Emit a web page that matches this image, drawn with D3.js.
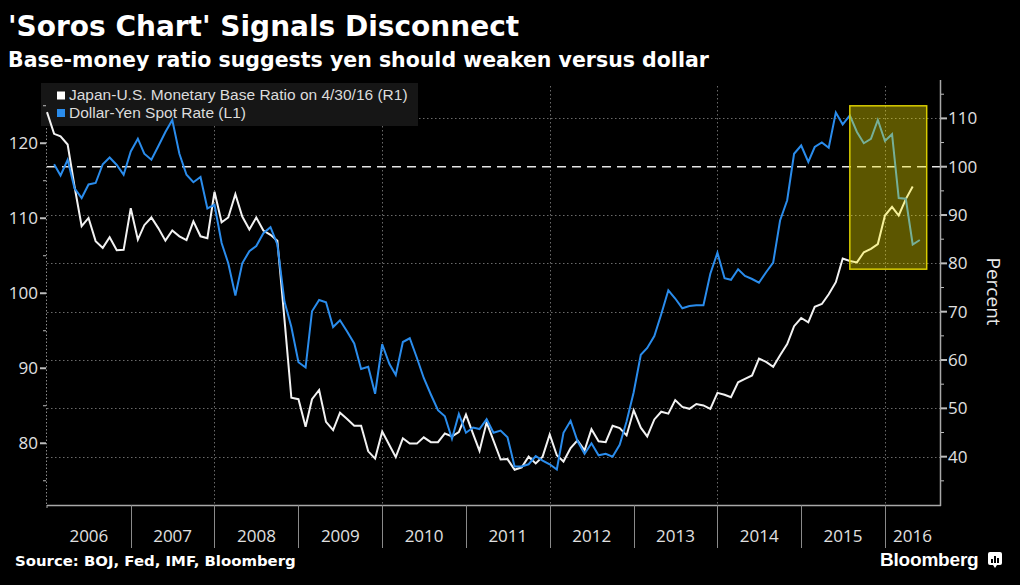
<!DOCTYPE html>
<html>
<head>
<meta charset="utf-8">
<script src="https://cdn.jsdelivr.net/npm/d3@7"></script>
<style>
  html, body { margin: 0; padding: 0; background: #000; }
  svg { display: block; }
</style>
</head>
<body>
<svg id="chart" width="1020" height="585"></svg>
<script>
// ---------------- DATA ----------------
const title = "'Soros Chart' Signals Disconnect";
const subtitle = "Base-money ratio suggests yen should weaken versus dollar";
const source = "Source: BOJ, Fed, IMF, Bloomberg";
const legendLabels = ["Japan-U.S. Monetary Base Ratio on 4/30/16 (R1)", "Dollar-Yen Spot Rate (L1)"];
const yearLabels = ["2006","2007","2008","2009","2010","2011","2012","2013","2014","2015","2016"];
const leftTicks = [80, 90, 100, 110, 120];
const rightTicks = [40, 50, 60, 70, 80, 90, 100, 110];

// Japan-U.S. monetary base ratio (percent, right axis), monthly from Jan 2006
const ratioStart = [2006, 0];
const ratioValues = [
  111.3,106.8,106.3,104.6,95.9,87.7,89.4,84.6,83.2,85.4,82.7,82.8,
  91.4,84.9,87.9,89.5,87.3,84.7,86.8,85.6,84.8,88.7,85.6,85.2,
  94.8,88.5,89.5,94.3,89.7,87.0,89.5,86.8,85.9,84.7,68.4,52.2,
  51.9,46.2,51.9,53.8,47.2,45.5,49.1,47.8,46.4,46.4,41.1,39.6,
  45.2,42.4,39.9,43.8,42.7,42.7,44.0,43.0,43.0,44.8,44.2,45.1,
  48.7,44.7,41.2,47.1,43.3,39.4,39.5,37.3,37.8,40.0,38.6,40.0,
  44.6,40.3,39.0,41.8,43.4,41.3,45.7,43.2,43.0,46.4,45.9,44.4,
  49.6,46.0,44.2,47.7,49.3,48.9,51.7,50.3,49.9,50.9,50.6,49.9,
  53.2,52.8,52.3,55.4,56.1,56.8,60.3,59.6,58.6,61.0,63.3,67.0,
  68.7,67.8,71.0,71.6,73.6,76.1,81.0,80.5,80.2,82.3,83.0,84.0,
  89.9,91.7,89.9,93.3,95.9
];

// Dollar-yen spot rate (left axis), monthly from Feb 2006
const yenStart = [2006, 1];
const yenValues = [
  117.2,115.7,117.8,114.0,112.7,114.5,114.7,117.2,118.1,117.1,115.8,
  118.9,120.6,118.6,117.8,119.6,121.5,123.1,118.6,115.8,114.8,115.5,111.3,
  111.8,106.7,104.0,99.7,104.0,105.6,106.3,108.0,108.8,106.5,98.9,95.5,
  90.8,90.1,97.6,99.1,98.8,95.5,96.4,94.9,93.3,89.9,90.2,86.6,
  93.2,90.6,89.1,93.5,94.0,91.4,88.7,86.5,84.4,83.6,80.6,83.9,
  81.4,82.1,81.9,83.2,81.4,81.7,80.8,76.9,76.9,77.2,78.3,77.7,
  77.2,76.5,81.4,83.0,80.3,78.6,80.0,78.4,78.6,78.2,79.8,82.9,
  86.8,91.8,92.7,94.3,97.2,100.4,99.3,98.0,98.3,98.4,98.4,102.6,
  105.4,102.0,101.8,103.2,102.3,101.9,101.4,102.8,104.1,109.7,112.4,118.6,
  119.7,117.5,119.5,120.1,119.4,124.1,122.5,123.7,121.5,120.0,120.6,123.1,
  120.3,121.2,112.7,112.6,106.5,107.1
];

// highlight box (date range, right-axis value range)
const highlightDates = [[2015, 7, 1], [2016, 6, 1]];
const highlightRight = [78.8, 112.6];

// ---------------- LAYOUT ----------------
const W = 1020, H = 585;
const plot = { left: 47, right: 940, top: 86, bottom: 505 };
const svg = d3.select("#chart");
svg.append("rect").attr("width", W).attr("height", H).attr("fill", "#000");

const x = d3.scaleTime()
  .domain([new Date(2006, 0, 1), new Date(2016, 7, 28)])
  .range([plot.left, plot.right]);
const yL = d3.scaleLinear().domain([71.77, 127.63]).range([plot.bottom, plot.top]);
const yR = d3.scaleLinear().domain([30.0, 116.7]).range([plot.bottom, plot.top]);

const ratio = ratioValues.map((v, i) => ({ d: new Date(ratioStart[0], ratioStart[1] + i, 1), v }));
const yen = yenValues.map((v, i) => ({ d: new Date(yenStart[0], yenStart[1] + i, 1), v }));

const axisFont = "'Open Sans', 'Noto Sans', sans-serif";
const legendFont = "'Liberation Sans', Arial, sans-serif";
const boldFont = "'DejaVu Sans', Verdana, sans-serif";

// ---------------- TITLES ----------------
svg.append("text").attr("x", 8).attr("y", 36)
  .attr("font-family", boldFont).attr("font-weight", "bold").attr("font-size", 28)
  .attr("fill", "#fff").text(title);
svg.append("text").attr("x", 8).attr("y", 67)
  .attr("font-family", boldFont).attr("font-weight", "bold").attr("font-size", 20.5)
  .attr("fill", "#fff").text(subtitle);

// ---------------- GRID ----------------
const grid = svg.append("g");
rightTicks.filter(t => t !== 100).forEach(t => {
  grid.append("line")
    .attr("x1", plot.left).attr("x2", plot.right)
    .attr("y1", Math.round(yR(t)) + 0.5).attr("y2", Math.round(yR(t)) + 0.5)
    .attr("stroke", "#6a6a6a").attr("stroke-width", 1).attr("stroke-dasharray", "1.5,2.5");
});
[2008, 2010, 2012, 2014, 2016].forEach(yr => {
  const xx = Math.round(x(new Date(yr, 0, 1))) + 0.5;
  grid.append("line")
    .attr("x1", xx).attr("x2", xx).attr("y1", plot.top).attr("y2", plot.bottom)
    .attr("stroke", "#6a6a6a").attr("stroke-width", 1).attr("stroke-dasharray", "1.5,2.5");
});
// left axis line (dotted)
grid.append("line")
  .attr("x1", plot.left - 0.5).attr("x2", plot.left - 0.5).attr("y1", plot.top).attr("y2", plot.bottom)
  .attr("stroke", "#8a8a8a").attr("stroke-width", 1).attr("stroke-dasharray", "1.5,2");

// 100 dashed reference
svg.append("line")
  .attr("x1", plot.left).attr("x2", plot.right)
  .attr("y1", yR(100)).attr("y2", yR(100))
  .attr("stroke", "#e6e6e6").attr("stroke-width", 1.5).attr("stroke-dasharray", "9,6");

// ---------------- LEGEND BG ----------------
const lg = svg.append("g");
lg.append("rect").attr("x", 41).attr("y", 83).attr("width", 377).attr("height", 43).attr("fill", "#161616");

// ---------------- LINES ----------------
const lineR = d3.line().x(d => x(d.d)).y(d => yR(d.v));
const lineL = d3.line().x(d => x(d.d)).y(d => yL(d.v));
svg.append("path").datum(ratio).attr("d", lineR)
  .attr("fill", "none").attr("stroke", "#f2f2f2").attr("stroke-width", 2).attr("stroke-linejoin", "miter");
svg.append("path").datum(yen).attr("d", lineL)
  .attr("fill", "none").attr("stroke", "#2a8cec").attr("stroke-width", 2).attr("stroke-linejoin", "miter");

// ---------------- HIGHLIGHT BOX ----------------
const hx0 = x(new Date(...highlightDates[0])), hx1 = x(new Date(...highlightDates[1]));
const hy0 = yR(highlightRight[1]), hy1 = yR(highlightRight[0]);
svg.append("rect").attr("x", hx0).attr("y", hy0).attr("width", hx1 - hx0).attr("height", hy1 - hy0)
  .attr("fill", "#ffee00").attr("fill-opacity", 0.36)
  .attr("stroke", "#d8cc00").attr("stroke-width", 1.5);

// ---------------- LEGEND ITEMS ----------------
lg.append("rect").attr("x", 57).attr("y", 91.5).attr("width", 8).attr("height", 8).attr("fill", "#fff");
lg.append("rect").attr("x", 57).attr("y", 109).attr("width", 8).attr("height", 8).attr("fill", "#2a8cec");
legendLabels.forEach((t, i) => {
  lg.append("text").attr("x", 69).attr("y", 100 + i * 17.5)
    .attr("font-family", legendFont).attr("font-size", 15.5).attr("fill", "#dcdcdc").text(t);
});

// ---------------- AXES ----------------
// Left axis
const la = svg.append("g");
d3.range(75, 126, 5).forEach(t => {
  const yy = yL(t);
  const major = t % 10 === 0;
  la.append("line").attr("x1", plot.left - (major ? 7 : 4)).attr("x2", plot.left - 1)
    .attr("y1", yy).attr("y2", yy).attr("stroke", "#bdbdbd").attr("stroke-width", major ? 2 : 1);
});
leftTicks.forEach(t => {
  la.append("text").attr("x", 38).attr("y", yL(t)).attr("dy", "0.36em")
    .attr("text-anchor", "end").attr("font-family", axisFont).attr("font-size", 17)
    .attr("fill", "#e0e0e0").text(t);
});

// Right axis
const ra = svg.append("g");
ra.append("line").attr("x1", plot.right + 0.5).attr("x2", plot.right + 0.5)
  .attr("y1", plot.top - 6).attr("y2", plot.bottom + 1).attr("stroke", "#a8a8a8").attr("stroke-width", 1.5);
d3.range(35, 116, 5).forEach(t => {
  const yy = yR(t);
  const major = t % 10 === 0;
  ra.append("line").attr("x1", plot.right + 1).attr("x2", plot.right + (major ? 7 : 4))
    .attr("y1", yy).attr("y2", yy).attr("stroke", "#bdbdbd").attr("stroke-width", major ? 2 : 1);
});
rightTicks.forEach(t => {
  ra.append("text").attr("x", 948).attr("y", yR(t)).attr("dy", "0.36em")
    .attr("font-family", axisFont).attr("font-size", 17)
    .attr("fill", "#e0e0e0").text(t);
});
ra.append("text")
  .attr("transform", `translate(987,${(yR(80) + yR(70)) / 2 + 4}) rotate(90)`)
  .attr("text-anchor", "middle")
  .attr("font-family", axisFont).attr("font-size", 19).attr("fill", "#e8e8e8").text("Percent");

// Bottom axis
const ba = svg.append("g");
ba.append("line").attr("x1", plot.left).attr("x2", plot.right + 1)
  .attr("y1", plot.bottom + 0.5).attr("y2", plot.bottom + 0.5).attr("stroke", "#a8a8a8").attr("stroke-width", 1.5);
ba.append("line").attr("x1", plot.left).attr("x2", plot.left)
  .attr("y1", plot.bottom).attr("y2", plot.bottom + 3).attr("stroke", "#a8a8a8").attr("stroke-width", 1);
yearLabels.forEach((yr, i) => {
  const y0 = +yr;
  const xs = x(new Date(y0, 0, 1));
  const xe = Math.min(x(new Date(y0 + 1, 0, 1)), plot.right);
  if (i > 0) {
    ba.append("line").attr("x1", Math.round(xs) + 0.5).attr("x2", Math.round(xs) + 0.5)
      .attr("y1", plot.bottom).attr("y2", plot.bottom + 43).attr("stroke", "#8a8a8a").attr("stroke-width", 1);
  }
  ba.append("text").attr("x", (xs + xe) / 2).attr("y", 542)
    .attr("text-anchor", "middle").attr("font-family", axisFont).attr("font-size", 17)
    .attr("fill", "#e0e0e0").text(yr);
});

// ---------------- FOOTER ----------------
svg.append("text").attr("x", 15).attr("y", 566)
  .attr("font-family", boldFont).attr("font-weight", "bold").attr("font-size", 14.9)
  .attr("fill", "#fff").text(source);
svg.append("text").attr("x", 880).attr("y", 565.5)
  .attr("font-family", legendFont).attr("font-weight", "bold").attr("font-size", 19)
  .attr("fill", "#fff").attr("letter-spacing", -0.2).text("Bloomberg");
const icon = svg.append("g").attr("transform", "translate(988,552)");
icon.append("rect").attr("width", 14).attr("height", 13).attr("rx", 2).attr("fill", "#fff");
icon.append("path").attr("d", "M5,13 L7,16 L9,13 Z").attr("fill", "#fff");
[[3, 7, 2], [6, 4, 2], [9, 6, 2]].forEach(([bx, by, bw]) => {
  icon.append("rect").attr("x", bx).attr("y", by).attr("width", bw).attr("height", 11 - by).attr("fill", "#000");
});
</script>
</body>
</html>
